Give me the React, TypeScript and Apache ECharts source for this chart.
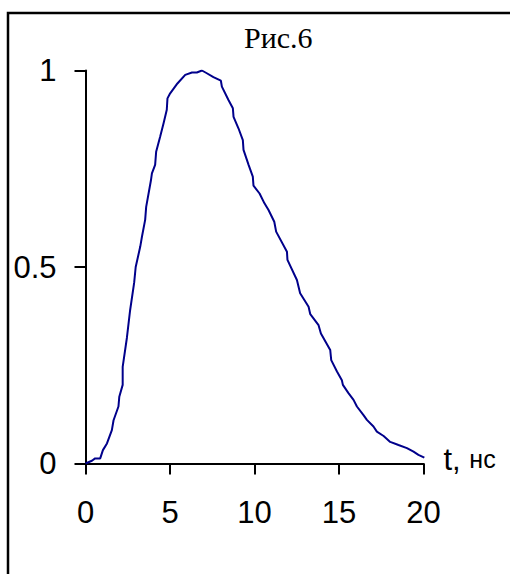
import React, { useEffect, useRef } from "react";
import * as echarts from "echarts";

const titleText = "Рис.6";
const xAxisName = "t, нс";
const xTicks = [0, 5, 10, 15, 20];
const yTicks = [0, 0.5, 1];

const tValues = [
  0, 0.38, 0.57, 0.87, 1.03, 1.27, 1.56, 1.66, 1.95, 2.0, 2.2, 2.2, 2.45, 2.64, 2.88, 2.97, 3.24, 3.34,
  3.53, 3.59, 3.87, 3.93, 4.12, 4.18, 4.42, 4.62, 4.81, 4.85, 5.01, 5.44, 5.9, 6.3, 6.59, 6.89, 7.18,
  7.57, 8.01, 8.07, 8.46, 8.72, 8.76, 9.05, 9.31, 9.35, 9.65, 9.9, 9.94, 10.3, 10.59, 10.83, 11.17,
  11.28, 11.92, 11.95, 12.51, 12.7, 13.2, 13.3, 13.79, 13.93, 14.48, 14.54, 14.88, 15.17, 15.23, 15.56,
  15.86, 16.06, 16.45, 16.65, 17.04, 17.24, 17.64, 18.03, 18.52, 19.02, 19.41, 19.7, 20.05,
];
const vValues = [
  0, 0.007, 0.013, 0.013, 0.034, 0.051, 0.085, 0.11, 0.145, 0.17, 0.2, 0.246, 0.32, 0.39, 0.46, 0.5,
  0.552, 0.577, 0.62, 0.653, 0.72, 0.738, 0.76, 0.793, 0.832, 0.866, 0.9, 0.929, 0.942, 0.967, 0.989,
  0.995, 0.995, 1.0, 0.993, 0.983, 0.974, 0.959, 0.925, 0.904, 0.882, 0.853, 0.823, 0.798, 0.76, 0.73,
  0.707, 0.687, 0.662, 0.645, 0.615, 0.59, 0.539, 0.518, 0.467, 0.433, 0.399, 0.38, 0.352, 0.331,
  0.289, 0.263, 0.234, 0.212, 0.2, 0.179, 0.162, 0.145, 0.123, 0.111, 0.094, 0.081, 0.07, 0.055,
  0.047, 0.039, 0.03, 0.022, 0.015,
];

export default function App() {
  const ref = useRef<HTMLDivElement>(null);
  useEffect(() => {
    if (!ref.current) return;
    const chart = echarts.init(ref.current, null, { renderer: "svg" });
    const data = tValues.map((t, i) => [t, vValues[i]]);
    const [nameA, nameB] = xAxisName.split(" ");
    chart.setOption({
      animation: false,
      backgroundColor: "#fff",
      title: {
        text: titleText,
        left: 239,
        top: 17,
        textStyle: {
          fontFamily: "Liberation Serif",
          fontSize: 30,
          fontWeight: "normal",
          color: "#000",
        },
      },
      graphic: [
        {
          type: "rect",
          shape: { x: 8, y: 13, width: 620, height: 620 },
          style: { fill: "none", stroke: "#000", lineWidth: 2.5 },
          z: -1,
        },
      ],
      grid: { left: 85.5, right: 86.5, top: 70.5, bottom: 110.5 },
      xAxis: {
        type: "value",
        min: xTicks[0],
        max: xTicks[xTicks.length - 1],
        interval: 5,
        name: `{a|${nameA} }{b|${nameB}}`,
        nameLocation: "end",
        nameGap: 20,
        nameTextStyle: {
          padding: [0, 0, 9, 0],
          rich: {
            a: { fontFamily: "Liberation Sans", fontSize: 31, color: "#000" },
            b: { fontFamily: "Liberation Sans", fontSize: 25, color: "#000" },
          },
        },
        axisLine: { lineStyle: { color: "#000", width: 2 } },
        axisTick: { length: 11, lineStyle: { color: "#000", width: 2 } },
        axisLabel: { margin: 33, fontFamily: "Liberation Sans", fontSize: 31, color: "#000" },
        splitLine: { show: false },
      },
      yAxis: {
        type: "value",
        min: yTicks[0],
        max: yTicks[yTicks.length - 1],
        interval: 0.5,
        axisLine: { show: true, lineStyle: { color: "#000", width: 2 } },
        axisTick: { show: true, length: 11, lineStyle: { color: "#000", width: 2 } },
        axisLabel: { margin: 29, fontFamily: "Liberation Sans", fontSize: 31, color: "#000" },
        splitLine: { show: false },
      },
      series: [
        {
          type: "line",
          data,
          showSymbol: false,
          lineStyle: { color: "#00008B", width: 2 },
        },
      ],
    });
    return () => chart.dispose();
  }, []);
  return (
    <div
      ref={ref}
      style={{ position: "absolute", left: 0, top: 0, width: 510, height: 574 }}
    />
  );
}
